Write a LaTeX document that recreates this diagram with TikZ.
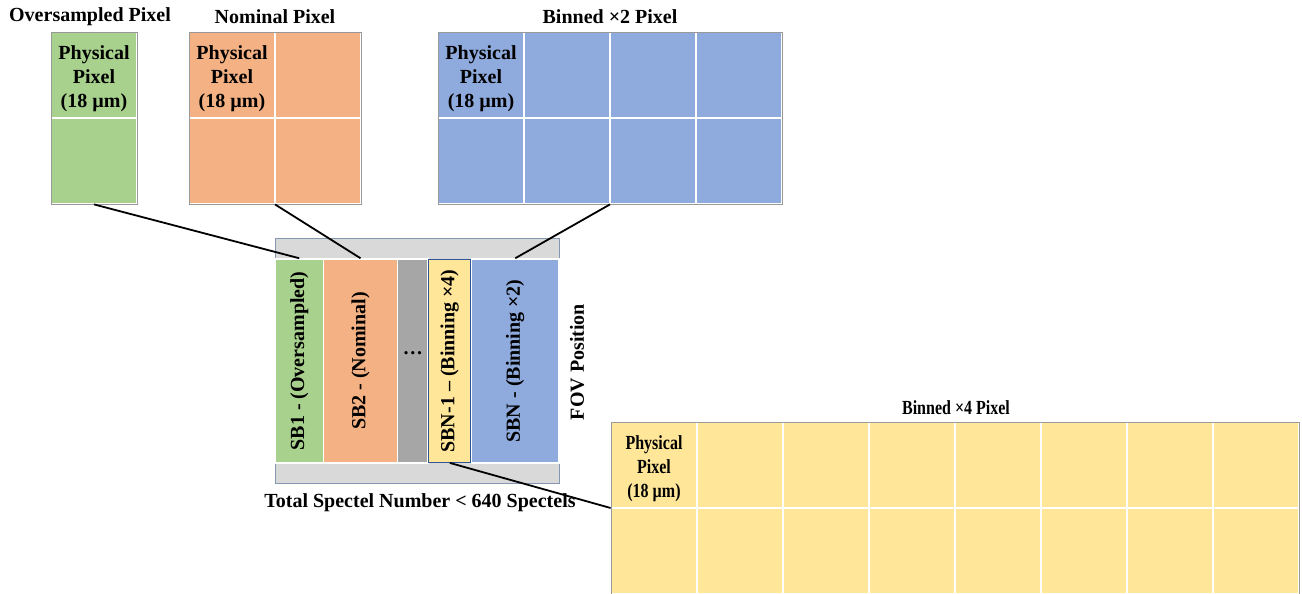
\documentclass[tikz,border=0pt]{standalone}
\usepackage{fontspec}
\setmainfont{Liberation Serif}
\newfontfamily\narrowserif[FakeStretch=0.8]{Liberation Serif}

\definecolor{overgreen}{HTML}{A9D18E}
\definecolor{nomorange}{HTML}{F4B183}
\definecolor{bintwoblue}{HTML}{8FAADC}
\definecolor{binfouryellow}{HTML}{FFE699}
\definecolor{midgray}{HTML}{A6A6A6}
\definecolor{fpagray}{HTML}{D9D9D9}
\definecolor{fpaedge}{HTML}{8497B0}
\definecolor{sbnedge}{HTML}{2F5597}

\begin{document}
\begin{tikzpicture}[
    x=1pt,
    y=-1pt,
    font=\fontsize{20}{24}\selectfont\bfseries,
    cell/.style={
        draw=white,
        line width=2pt,
        minimum width=86pt,
        minimum height=86pt,
        inner sep=0pt
    },
    pixtext/.style={
        align=center,
        yshift=-4pt
    },
    frame/.style={
        draw=gray!80,
        line width=0.8pt,
        inner sep=0pt
    },
    band/.style={
        draw=white,
        line width=1.5pt,
        minimum height=204pt,
        inner sep=0pt
    },
    narrow/.style={
        font=\narrowserif\bfseries\fontsize{20}{24}\selectfont
    },
    wire/.style={line width=1.8pt}
]
    \useasboundingbox (0,0) rectangle (1302,594);

    % --- Oversampled pixel ---
    \node at (90,17) {Oversampled Pixel};
    \node[cell, fill=overgreen] at (94,75) {};
    \node[cell, fill=overgreen] at (94,161) {};
    \node[frame, minimum width=86pt, minimum height=172pt] (over) at (94,118) {};
    \node[pixtext] at (94,75) {Physical\\Pixel\\(18 µm)};

    % --- Nominal pixel ---
    \node at (275,17) {Nominal Pixel};
    \node[cell, fill=nomorange] at (232,75) {};
    \node[cell, fill=nomorange] at (318,75) {};
    \node[cell, fill=nomorange] at (232,161) {};
    \node[cell, fill=nomorange] at (318,161) {};
    \node[frame, minimum width=172pt, minimum height=172pt] (nom) at (275,118) {};
    \node[pixtext] at (232,75) {Physical\\Pixel\\(18 µm)};

    % --- Binned x2 pixel ---
    \node at (610,17) {Binned ×2 Pixel};
    \node[cell, fill=bintwoblue] at (481,75) {};
    \node[cell, fill=bintwoblue] at (567,75) {};
    \node[cell, fill=bintwoblue] at (653,75) {};
    \node[cell, fill=bintwoblue] at (739,75) {};
    \node[cell, fill=bintwoblue] at (481,161) {};
    \node[cell, fill=bintwoblue] at (567,161) {};
    \node[cell, fill=bintwoblue] at (653,161) {};
    \node[cell, fill=bintwoblue] at (739,161) {};
    \node[frame, minimum width=344pt, minimum height=172pt] (bintwo) at (610,118) {};
    \node[pixtext] at (481,75) {Physical\\Pixel\\(18 µm)};

    % --- Spectral bands on the detector ---
    \node[draw=fpaedge, fill=fpagray, line width=0.8pt,
          minimum width=284pt, minimum height=245pt] (fpa) at (417,361) {};
    \node[band, fill=overgreen, minimum width=48.5pt] (sb1) at (299.25,361) {};
    \node[band, fill=nomorange, minimum width=74pt] (sb2) at (360.5,361) {};
    \node[band, fill=midgray, minimum width=30.5pt] (sbdots) at (412.75,361) {};
    \node[band, fill=binfouryellow, draw=sbnedge, line width=0.8pt,
          minimum width=42pt, minimum height=203pt] (sbn1) at (449.75,361) {};
    \node[band, fill=bintwoblue, minimum width=87.5pt] (sbn) at (515.25,361) {};

    \node[rotate=90] at (sb1) {SB1 - (Oversampled)};
    \node[rotate=90] at (sb2) {SB2 - (Nominal)};
    \node[yshift=8pt] at (sbdots) {…};
    \node[rotate=90] at (sbn1) {SBN-1 – (Binning ×4)};
    \node[rotate=90] at (sbn) {SBN - (Binning ×2)};

    \node[rotate=90] at (577,362) {FOV Position};
    \node at (420,503) {Total Spectel Number < 640 Spectels};

    % --- Binned x4 pixel ---
    \node[narrow] at (956,408) {Binned ×4 Pixel};
    \node[cell, fill=binfouryellow] at (654,465) {};
    \node[cell, fill=binfouryellow] at (740,465) {};
    \node[cell, fill=binfouryellow] at (826,465) {};
    \node[cell, fill=binfouryellow] at (912,465) {};
    \node[cell, fill=binfouryellow] at (998,465) {};
    \node[cell, fill=binfouryellow] at (1084,465) {};
    \node[cell, fill=binfouryellow] at (1170,465) {};
    \node[cell, fill=binfouryellow] at (1256,465) {};
    \node[cell, fill=binfouryellow] at (654,551) {};
    \node[cell, fill=binfouryellow] at (740,551) {};
    \node[cell, fill=binfouryellow] at (826,551) {};
    \node[cell, fill=binfouryellow] at (912,551) {};
    \node[cell, fill=binfouryellow] at (998,551) {};
    \node[cell, fill=binfouryellow] at (1084,551) {};
    \node[cell, fill=binfouryellow] at (1170,551) {};
    \node[cell, fill=binfouryellow] at (1256,551) {};
    \node[frame, minimum width=688pt, minimum height=172pt] (binfour) at (955,508) {};
    \node[pixtext, narrow] at (654,465) {Physical\\Pixel\\(18 µm)};

    % --- Connectors ---
    \draw[wire] (over.south) -- (sb1.north);
    \draw[wire] (nom.south) -- (sb2.north);
    \draw[wire] (bintwo.south) -- (sbn.north);
    \draw[wire] (sbn1.south) -- (binfour.west);
\end{tikzpicture}
\end{document}
